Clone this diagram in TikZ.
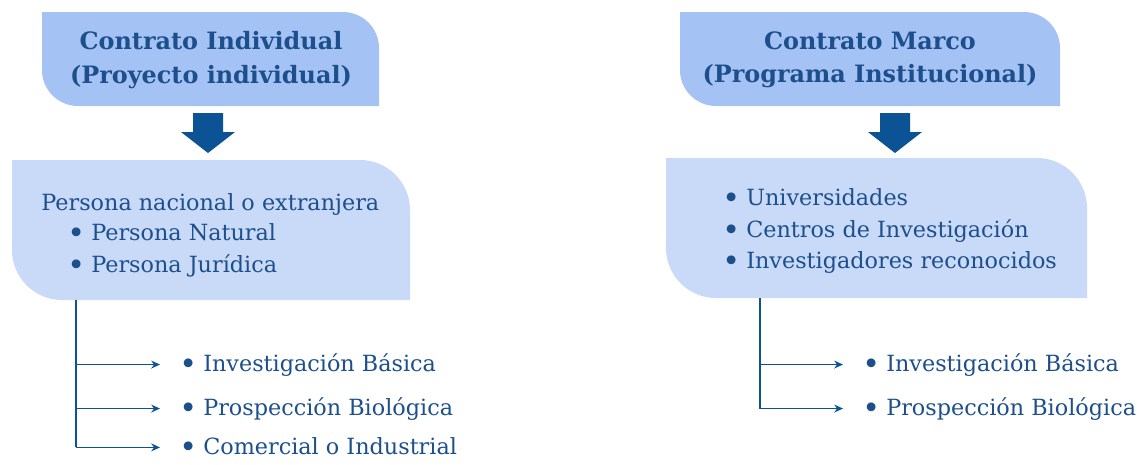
\documentclass[tikz,border=0pt]{standalone}
\usepackage{fontspec}
\setmainfont{DejaVu Serif}
\usetikzlibrary{arrows.meta}

\definecolor{headblue}{HTML}{A4C2F4}
\definecolor{bodyblue}{HTML}{C9DAF8}
\definecolor{inkblue}{HTML}{0B5394}
\definecolor{textblue}{HTML}{1C4F8C}

\begin{document}
\begin{tikzpicture}[x=0.02cm,y=-0.02cm,
	headtext/.style={font=\bfseries\fontsize{13.6}{19}\selectfont,text=textblue,align=center,inner sep=0pt},
	bodytext/.style={font=\fontsize{12.7}{14}\selectfont,text=textblue,anchor=base west,inner sep=0pt},
	branch/.style={inkblue,line width=0.8pt,-{Stealth[length=5pt,width=4.5pt]}}]

\useasboundingbox (0,0) rectangle (1137,464);

% box with a round top-right and bottom-left corner
\newcommand*{\leafbox}[6] {
	\fill [#6] (#1,#2) -- ({#3-#5},#2) .. controls ({#3-0.448*#5},#2) and (#3,{#2+0.448*#5}) .. (#3,{#2+#5})
		-- (#3,#4) -- ({#1+#5},#4) .. controls ({#1+0.448*#5},#4) and (#1,{#4-0.448*#5}) .. (#1,{#4-#5}) -- cycle;
}
% thick arrow, centre x and top y
\newcommand*{\bigarrow}[2] {
	\fill [inkblue] ({#1-15},#2) -- ({#1+15},#2) -- ({#1+15},{#2+19}) -- ({#1+27},{#2+19})
		-- (#1,{#2+40}) -- ({#1-27},{#2+19}) -- ({#1-15},{#2+19}) -- cycle;
}
\newcommand*{\bul}{\raisebox{-0.17em}{\scalebox{1.35}{\textbullet}}\hspace{3.5pt}}

% individual contract
\leafbox{42}{12}{379}{106}{36}{headblue}
\node [headtext] (headInd) at (211,60) {Contrato Individual\\(Proyecto individual)};
\bigarrow{208}{113}
\leafbox{12}{160}{410}{300}{50}{bodyblue}
\node [bodytext] (persona) at (41,210) {Persona nacional o extranjera};
\node [bodytext] (natural) at (67,240) {\bul Persona Natural};
\node [bodytext] (juridica) at (67,272) {\bul Persona Jurídica};

\coordinate (trunkL) at (76,300);
\node [bodytext] (basicaL) at (179,371) {\bul Investigación Básica};
\node [bodytext] (prospL) at (179,415) {\bul Prospección Biológica};
\node [bodytext] (comerL) at (179,454) {\bul Comercial o Industrial};
\draw [inkblue,line width=0.8pt] (trunkL) -- (trunkL |- comerL.west);
\foreach \n in {basicaL,prospL,comerL} {
	\draw [branch] (trunkL |- \n.west) -- ([xshift=-0.38cm]\n.west);
}

% framework contract
\leafbox{680}{12}{1060}{106}{36}{headblue}
\node [headtext] (headMarco) at (870,60) {Contrato Marco\\(Programa Institucional)};
\bigarrow{895}{113}
\leafbox{666}{158}{1087}{298}{50}{bodyblue}
\node [bodytext] (univ) at (722,205) {\bul Universidades};
\node [bodytext] (centros) at (722,237) {\bul Centros de Investigación};
\node [bodytext] (invest) at (722,268) {\bul Investigadores reconocidos};

\coordinate (trunkR) at (760,298);
\node [bodytext] (basicaR) at (862,371) {\bul Investigación Básica};
\node [bodytext] (prospR) at (862,415) {\bul Prospección Biológica};
\draw [inkblue,line width=0.8pt] (trunkR) -- (trunkR |- prospR.west);
\foreach \n in {basicaR,prospR} {
	\draw [branch] (trunkR |- \n.west) -- ([xshift=-0.38cm]\n.west);
}

\end{tikzpicture}
\end{document}
